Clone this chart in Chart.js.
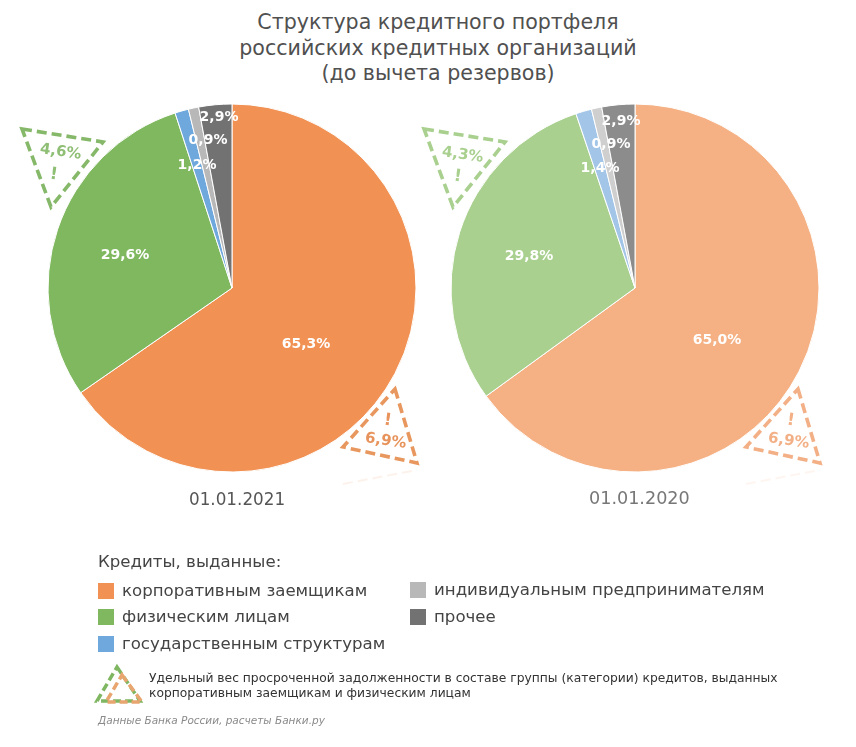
<!DOCTYPE html>
<html lang="ru">
<head>
<meta charset="utf-8">
<title>Структура кредитного портфеля</title>
<script src="https://cdn.jsdelivr.net/npm/chart.js@4"></script>
<style>
  html, body { margin: 0; padding: 0; background: #fff; }
  #page { position: relative; width: 856px; height: 747px; overflow: hidden; font-family: "DejaVu Sans", sans-serif; color: #555; }
  #page div.t { position: absolute; white-space: nowrap; }
  .pie { position: absolute; top: 98px; width: 380px; height: 380px; }
  svg { position: absolute; left: 0; top: 0; }
  .swatch { position: absolute; width: 16px; height: 16px; }
  .val { font-weight: bold; font-size: 14px; color: #fff; transform: translate(-50%, -50%); }
  .legend { font-size: 16.6px; color: #444; }
</style>
</head>
<body>
<div id="page">
  <div class="t" style="left:0;width:876px;top:10px;text-align:center;font-size:20.6px;line-height:25.5px;color:#505050">Структура кредитного портфеля<br>российских кредитных организаций<br>(до вычета резервов)</div>

  <div class="pie" style="left:42px"><canvas id="chart-2021"></canvas></div>
  <div class="pie" style="left:445px"><canvas id="chart-2020"></canvas></div>

  <svg width="856" height="747" fill="none" stroke-width="3.6" stroke-dasharray="10 5">
    <polygon points="22,129 103,142 51,207" stroke="#86b869"/>
    <polygon points="395,389 417,463 343,447" stroke="#e8985f"/>
    <polygon points="424,129 505,142 453,207" stroke="#a9d08f"/>
    <polygon points="798,389 820,463 746,447" stroke="#f3b086"/>
    <polyline points="343,484 417,470" stroke="#e8935c" stroke-width="2" opacity="0.12"/>
    <polyline points="746,484 820,470" stroke="#f3b086" stroke-width="2" opacity="0.12"/>
    <polygon points="117,667 140,701 97,701" stroke="#7fb661" stroke-width="3.5" stroke-dasharray="8 4"/>
    <polygon points="122,675 142,702 106,702" stroke="#e8a56f" stroke-width="3.5" stroke-dasharray="8 4"/>
  </svg>

  <div class="t" style="left:40px;top:142px;font-size:15px;font-weight:bold;color:#8fbe75;transform:rotate(8deg)">4,6%</div>
  <div class="t" style="left:50px;top:163px;font-size:17px;font-weight:bold;color:#8fbe75;transform:rotate(8deg)">!</div>
  <div class="t" style="left:365px;top:431px;font-size:15px;font-weight:bold;color:#e8935c;transform:rotate(8deg)">6,9%</div>
  <div class="t" style="left:384px;top:409px;font-size:17px;font-weight:bold;color:#e8935c;transform:rotate(8deg)">!</div>
  <div class="t" style="left:442px;top:145px;font-size:15px;font-weight:bold;color:#a9d08f;transform:rotate(8deg)">4,3%</div>
  <div class="t" style="left:454px;top:165px;font-size:17px;font-weight:bold;color:#a9d08f;transform:rotate(8deg)">!</div>
  <div class="t" style="left:768px;top:431px;font-size:15px;font-weight:bold;color:#f3b086;transform:rotate(8deg)">6,9%</div>
  <div class="t" style="left:787px;top:409px;font-size:17px;font-weight:bold;color:#f3b086;transform:rotate(8deg)">!</div>

  <div class="t" style="left:189px;top:489px;font-size:16.8px;color:#555">01.01.2021</div>
  <div class="t" style="left:589px;top:488px;font-size:17.6px;color:#777">01.01.2020</div>

  <div class="t legend" style="left:98px;top:552px">Кредиты, выданные:</div>
  <div id="legend"></div>

  <div class="t" style="left:149px;top:671px;font-size:12.3px;line-height:15px;color:#333">Удельный вес просроченной задолженности в составе группы (категории) кредитов, выданных<br>корпоративным заемщикам и физическим лицам</div>
  <div class="t" style="left:98px;top:714px;font-size:10.5px;font-style:italic;color:#8a8a8a">Данные Банка России, расчеты Банки.ру</div>
</div>

<script>
  var categories = ["корпоративным заемщикам", "физическим лицам", "государственным структурам", "индивидуальным предпринимателям", "прочее"];
  var values2021 = [65.3, 29.6, 1.2, 0.9, 2.9];
  var values2020 = [65.0, 29.8, 1.4, 0.9, 2.9];
  var colors2021 = ["#f19153", "#80b860", "#6fa8dc", "#b8b8b8", "#727272"];
  var colors2020 = ["#f5b083", "#a9d08e", "#a3c6e8", "#cfcfcf", "#8c8c8c"];

  // where each value label sits on the page
  var labelSpots2021 = [[306, 343], [125, 254], [197, 164], [208, 139], [219, 116]];
  var labelSpots2020 = [[717, 339], [529, 255], [600, 167], [611, 143], [621, 120]];
  var legendSpots = [[98, 583], [98, 609], [98, 636], [410, 582], [410, 609]];

  var page = document.getElementById("page");

  function fmt(v) {
    return v.toFixed(1).replace(".", ",") + "%";
  }

  function makePie(id, values, colors, spots) {
    new Chart(document.getElementById(id), {
      type: "pie",
      data: { labels: categories, datasets: [{ data: values, backgroundColor: colors, borderColor: "#fff", borderWidth: 1, radius: 184 }] },
      options: {
        responsive: true,
        maintainAspectRatio: true,
        aspectRatio: 1,
        animation: false,
        layout: { padding: 0 },
        plugins: { legend: { display: false }, tooltip: { enabled: false } }
      }
    });
    values.forEach(function (v, i) {
      var el = document.createElement("div");
      el.className = "t val";
      el.style.left = spots[i][0] + "px";
      el.style.top = spots[i][1] + "px";
      el.textContent = fmt(v);
      page.appendChild(el);
    });
  }

  function makeLegend() {
    var box = document.getElementById("legend");
    categories.forEach(function (name, i) {
      var s = document.createElement("div");
      s.className = "swatch";
      s.style.left = legendSpots[i][0] + "px";
      s.style.top = legendSpots[i][1] + "px";
      s.style.background = colors2021[i];
      box.appendChild(s);
      var t = document.createElement("div");
      t.className = "t legend";
      t.style.left = (legendSpots[i][0] + 24) + "px";
      t.style.top = (legendSpots[i][1] - 2) + "px";
      t.textContent = name;
      box.appendChild(t);
    });
  }

  makePie("chart-2021", values2021, colors2021, labelSpots2021);
  makePie("chart-2020", values2020, colors2020, labelSpots2020);
  makeLegend();
</script>
</body>
</html>
